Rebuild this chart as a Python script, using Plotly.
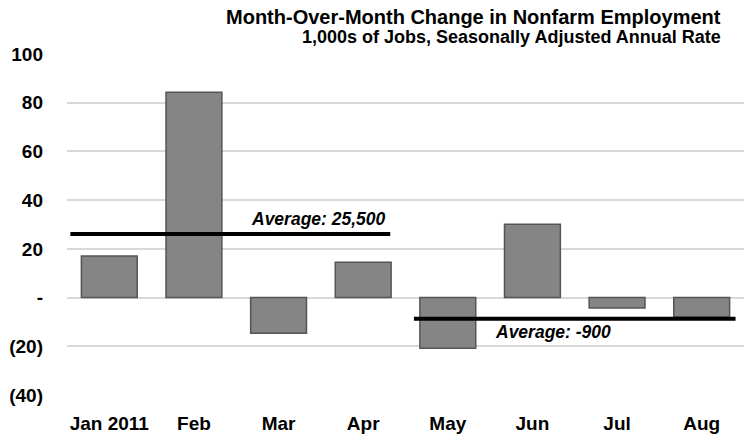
import plotly.graph_objects as go

months = ["Jan 2011", "Feb", "Mar", "Apr", "May", "Jun", "Jul", "Aug"]
changes = [17.1, 84.3, -14.6, 14.5, -20.8, 30.1, -4.3, -8.0]

y_tickvals = [100, 80, 60, 40, 20, 0, -20, -40]
y_ticktext = ["100", "80", "60", "40", "20", "-", "(20)", "(40)"]

avg_levels = [26.1, -8.7]
avg_starts = [-0.46, 3.6]
avg_ends = [3.32, 7.4]
avg_labels = ["Average: 25,500", "Average: -900"]

FONT = "Arial, 'Liberation Sans', sans-serif"

fig = go.Figure()
fig.add_trace(go.Bar(
    x=months, y=changes, width=0.66,
    marker=dict(color="#858585", line=dict(color="#555555", width=1.5)),
    showlegend=False,
))

for lvl, x0, x1 in zip(avg_levels, avg_starts, avg_ends):
    fig.add_shape(type="line", xref="x", yref="y", x0=x0, x1=x1, y0=lvl, y1=lvl,
                  line=dict(color="black", width=4), layer="above")

fig.add_annotation(x=avg_ends[0] - 0.03, y=avg_levels[0], xref="x", yref="y",
                   text="<b><i>" + avg_labels[0] + "</i></b>", showarrow=False,
                   xanchor="right", yanchor="bottom", yshift=3,
                   font=dict(family=FONT, size=17.5, color="black"))
fig.add_annotation(x=4.53, y=avg_levels[1], xref="x", yref="y",
                   text="<b><i>" + avg_labels[1] + "</i></b>", showarrow=False,
                   xanchor="left", yanchor="top", yshift=-1,
                   font=dict(family=FONT, size=17.5, color="black"))

title_right = (723 - 67) / (744 - 67)
fig.add_annotation(x=title_right, y=1, xref="paper", yref="paper", yshift=37,
                   text="<b>Month-Over-Month Change in Nonfarm Employment</b>",
                   showarrow=False, xanchor="right", yanchor="middle",
                   font=dict(family=FONT, size=20, color="black"))
fig.add_annotation(x=title_right, y=1, xref="paper", yref="paper", yshift=17,
                   text="<b>1,000s of Jobs, Seasonally Adjusted Annual Rate</b>",
                   showarrow=False, xanchor="right", yanchor="middle",
                   font=dict(family=FONT, size=18, color="black"))

fig.update_layout(
    width=747, height=436,
    margin=dict(l=67, r=3, t=54, b=41),
    paper_bgcolor="white", plot_bgcolor="white",
    bargap=0.34,
    xaxis=dict(showgrid=False, showline=False, zeroline=False, automargin=False,
               ticks="", ticklabelstandoff=15,
               tickfont=dict(family=FONT, size=19, color="black", weight="bold")),
    yaxis=dict(range=[-40, 100], tickvals=y_tickvals, ticktext=y_ticktext,
               showgrid=True, gridcolor="#d9d9d9", gridwidth=1.5, automargin=False,
               zeroline=False, showline=False, ticks="", ticklabelstandoff=23,
               tickfont=dict(family=FONT, size=19, color="black", weight="bold")),
)

fig.write_html("out.html", config={"displayModeBar": False},
               post_script="document.body.style.margin='0';document.body.style.overflow='hidden';")
